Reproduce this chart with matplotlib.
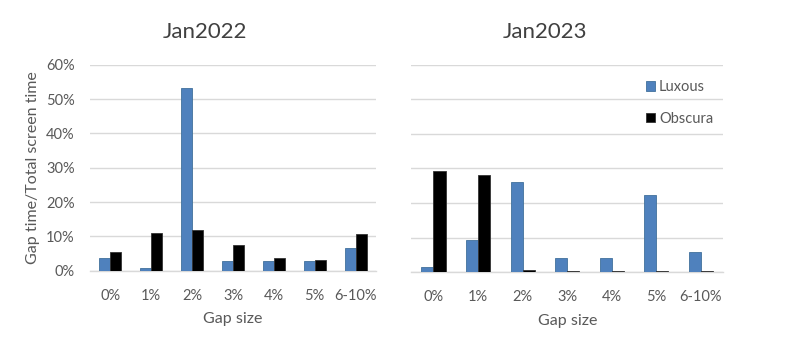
import matplotlib.pyplot as plt
import numpy as np

plt.rcParams['font.family'] = ['Lato', 'DejaVu Sans']

categories = ['0%', '1%', '2%', '3%', '4%', '5%', '6-10%']
lux_2022 = [3.6, 0.7, 53.3, 2.7, 2.7, 2.7, 6.5]
obs_2022 = [5.4, 11.0, 11.9, 7.5, 3.6, 3.0, 10.8]
lux_2023 = [1.5, 9.2, 26.2, 4.2, 4.2, 22.2, 5.7]
obs_2023 = [29.2, 28.1, 0.5, 0.4, 0.4, 0.4, 0.4]

blue = '#4f81bd'
grey = '#595959'

fig = plt.figure(figsize=(8, 3.51), dpi=100)
ax1 = fig.add_axes([0.1125, 0.229, 0.3575, 0.586])
ax2 = fig.add_axes([0.514, 0.225, 0.39, 0.590])

x = np.arange(len(categories))
w = 0.27
for ax, lux, obs in [(ax1, lux_2022, obs_2022), (ax2, lux_2023, obs_2023)]:
    ax.bar(x - w / 2, lux, w, color=blue, edgecolor='#41719c', linewidth=0.6, label='Luxous', zorder=3)
    ax.bar(x + w / 2, obs, w, color='black', edgecolor='#333333', linewidth=0.6, label='Obscura', zorder=3)
    ax.set_xlim(-0.5, len(categories) - 0.5)
    ax.set_ylim(0, 60)
    ax.set_yticks(range(0, 61, 10))
    ax.grid(axis='y', color='#d9d9d9', linewidth=1, zorder=0)
    for s in ['top', 'right', 'left']:
        ax.spines[s].set_visible(False)
    ax.spines['bottom'].set_color('#d9d9d9')
    ax.spines['bottom'].set_linewidth(1)
    ax.set_xticks(x)
    ax.set_xticklabels(categories, color=grey, fontsize=10.5)
    ax.tick_params(length=0, pad=13)
    ax.set_xlabel('Gap size', color=grey, fontsize=11.5, labelpad=7)

ax1.set_yticklabels([f'{v}%' for v in range(0, 61, 10)], color=grey, fontsize=10.5)
ax1.tick_params(axis='y', pad=11)
ax1.set_ylabel('Gap time/Total screen time', color=grey, fontsize=11.5, labelpad=4)
ax2.set_yticklabels([])

fig.text(0.256, 0.91, 'Jan2022', ha='center', va='center', fontsize=16, color='#404040')
fig.text(0.681, 0.91, 'Jan2023', ha='center', va='center', fontsize=16, color='#404040')

ax2.legend(loc='upper left', bbox_to_anchor=(0.71, 0.99), frameon=False, fontsize=10.5,
           labelcolor=grey, handlelength=0.6, handleheight=0.6, handletextpad=0.3,
           labelspacing=1.2)

fig.savefig('out.png', dpi=100)
